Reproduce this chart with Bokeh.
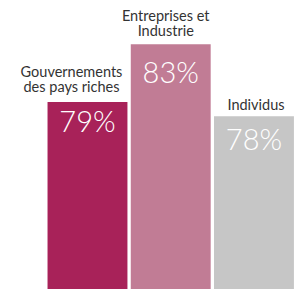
from bokeh.plotting import figure
from bokeh.models import ColumnDataSource, Range1d
from bokeh.core.properties import value
from bokeh.embed import file_html
from bokeh.resources import INLINE

# ---- data ----
categories = ["Gouvernements\ndes pays riches", "Entreprises et\nIndustrie", "Individus"]
shares = [79, 83, 78]
share_labels = ["79%", "83%", "78%"]
colors = ["#A82259", "#C17C95", "#C6C6C6"]

# ---- layout / style ----
pct_offsets = [19, 27, 22]
cat_x_offsets = [-16, -5, 2]
cat_y_offsets = [-7, -5, -3.5]
xs = list(range(len(categories)))

src = ColumnDataSource(dict(x=xs, top=shares, color=colors, cat=categories,
                            pct=share_labels, off=pct_offsets,
                            cx=cat_x_offsets, cy=cat_y_offsets))

p = figure(width=300, height=289, output_backend="svg", toolbar_location=None,
           x_range=Range1d(-1.045, 2.559), y_range=Range1d(66.0, 86.03),
           min_border=0, outline_line_color=None, background_fill_color="white",
           border_fill_color="white")
p.axis.visible = False
p.grid.visible = False

p.vbar(x="x", top="top", bottom=0, width=0.96, fill_color="color", line_color=None, source=src)

p.text(x="x", y="top", text="pct", source=src, text_align="center", text_baseline="alphabetic",
       y_offset="off", text_color="white", text_font_size="29px",
       text_font=value("'Lato Light', Lato"))

p.text(x="x", y="top", text="cat", source=src, text_align="center", text_baseline="bottom",
       x_offset="cx", y_offset="cy", text_color="#333333", text_font_size="14.5px",
       text_line_height=0.87, text_font=value("Lato"))

open("out.html", "w").write(file_html(p, INLINE))
